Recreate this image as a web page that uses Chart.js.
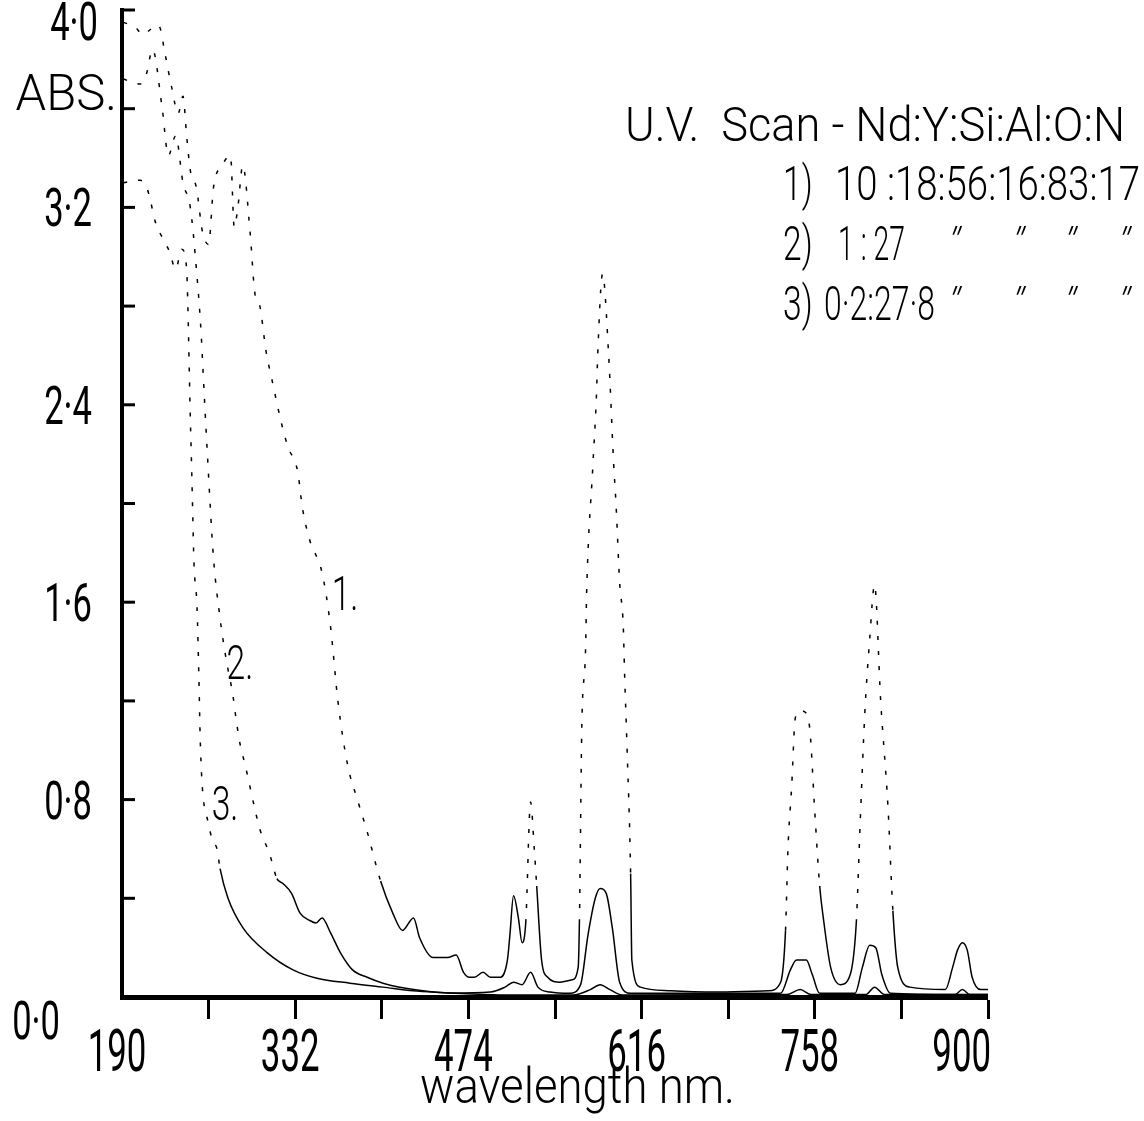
<!DOCTYPE html>
<html>
<head>
<meta charset="utf-8">
<title>U.V. Scan - Nd:Y:Si:Al:O:N</title>
<script src="https://cdn.jsdelivr.net/npm/chart.js@4.4.0/dist/chart.umd.min.js"></script>
<style>
  html, body { margin: 0; padding: 0; background: #ffffff; }
  #wrap { width: 1144px; height: 1121px; }
</style>
</head>
<body>
<div id="wrap"><canvas id="scan" width="1144" height="1121"></canvas></div>
<script>
// Absorbance scans of three Nd:Y:Si:Al:O:N glasses (wavelength in nm, absorbance)
const wavelength1 = [191, 201, 207, 213, 218, 221, 225, 231, 236, 240, 243, 246, 251, 256, 261, 265, 272, 279, 282, 285, 289, 295, 299, 303, 308, 313, 321, 326, 334, 338, 344, 354, 361, 367, 375, 383, 391, 402, 412, 420, 429, 434, 445, 457, 464, 470, 475, 479, 486, 492, 500, 506, 508, 511, 515, 518, 521, 525, 528, 530, 534, 539, 549, 559, 564, 565, 567, 570, 571, 576, 579, 580, 584, 589, 593, 595, 598, 601, 602, 604, 607, 608, 615, 640, 680, 720, 730, 734, 736, 739, 742, 746, 751, 754, 758, 762, 765, 771, 779, 787, 792, 795, 799, 803, 807, 812, 818, 822, 826, 836, 865, 871, 875, 879, 883, 887, 894, 900];
const absorbance1 = [3.95, 3.93, 3.90, 3.92, 3.94, 3.93, 3.83, 3.68, 3.58, 3.65, 3.49, 3.35, 3.28, 3.10, 3.05, 3.28, 3.37, 3.41, 3.12, 3.20, 3.37, 3.10, 2.85, 2.80, 2.62, 2.50, 2.32, 2.23, 2.13, 1.98, 1.85, 1.72, 1.50, 1.20, 0.94, 0.80, 0.67, 0.47, 0.34, 0.27, 0.32, 0.24, 0.16, 0.16, 0.17, 0.10, 0.08, 0.08, 0.10, 0.08, 0.08, 0.15, 0.25, 0.41, 0.32, 0.22, 0.30, 0.79, 0.60, 0.45, 0.15, 0.08, 0.06, 0.07, 0.12, 0.30, 1.10, 1.40, 1.65, 2.15, 2.44, 2.60, 2.93, 2.60, 2.17, 2.00, 1.68, 1.50, 1.32, 1.02, 0.50, 0.15, 0.04, 0.025, 0.02, 0.025, 0.06, 0.27, 0.60, 0.85, 1.13, 1.16, 1.15, 1.08, 0.75, 0.45, 0.32, 0.12, 0.05, 0.09, 0.30, 0.68, 1.15, 1.45, 1.67, 1.20, 0.77, 0.35, 0.12, 0.04, 0.03, 0.12, 0.19, 0.22, 0.19, 0.08, 0.03, 0.03];

const wavelength2 = [191, 205, 210, 215, 223, 228, 234, 240, 246, 251, 255, 256, 260, 265, 270, 275, 281, 284, 287, 291, 299, 303, 311, 317, 322, 329, 336, 344, 349, 354, 361, 369, 379, 391, 404, 432, 459, 492, 504, 511, 518, 525, 531, 541, 557, 566, 572, 578, 582, 587, 592, 598, 607, 730, 738, 743, 751, 756, 762, 791, 797, 803, 808, 813, 820, 873, 879, 885, 900];
const absorbance2 = [3.72, 3.70, 3.74, 3.84, 3.60, 3.41, 3.49, 3.30, 3.20, 2.95, 2.68, 2.58, 2.20, 1.78, 1.55, 1.38, 1.22, 1.11, 1.02, 0.94, 0.76, 0.68, 0.58, 0.48, 0.46, 0.42, 0.34, 0.31, 0.30, 0.32, 0.26, 0.18, 0.11, 0.08, 0.056, 0.028, 0.016, 0.02, 0.04, 0.06, 0.05, 0.10, 0.04, 0.02, 0.015, 0.05, 0.25, 0.40, 0.44, 0.42, 0.28, 0.06, 0.015, 0.015, 0.11, 0.15, 0.15, 0.09, 0.015, 0.015, 0.12, 0.21, 0.20, 0.09, 0.015, 0.01, 0.03, 0.01, 0.01];

const wavelength3 = [191, 205, 211, 218, 224, 229, 234, 239, 243, 244, 245.8, 246.8, 247.8, 249, 251.5, 253.1, 254, 255.6, 260.5, 264.6, 267.9, 270.4, 276.9, 289.2, 308.9, 330.2, 349.9, 376.9, 404, 431.9, 458.9, 500, 560, 574, 582, 590, 600, 735, 746, 755, 800, 807, 815, 900];
const absorbance3 = [3.30, 3.31, 3.27, 3.13, 3.07, 3.02, 2.95, 3.03, 2.95, 2.80, 2.39, 2.20, 2.00, 1.76, 1.58, 1.28, 1.07, 0.87, 0.71, 0.63, 0.60, 0.52, 0.40, 0.28, 0.18, 0.11, 0.076, 0.056, 0.040, 0.024, 0.016, 0.008, 0.008, 0.03, 0.05, 0.03, 0.008, 0.01, 0.03, 0.01, 0.01, 0.04, 0.01, 0.01];

// Axis ticks and labels
const wavelengthLabels = [190, 332, 474, 616, 758, 900];
const absorbanceLabels = [0.0, 0.8, 1.6, 2.4, 3.2, 4.0];
const absorbanceTitleAt = 3.6;

// Sample key
const scanTitle = 'U.V.  Scan - Nd:Y:Si:Al:O:N';
const sampleNames = ['1)', '2)', '3)'];
const sampleRatios = ['10 :18:56:16:83:17', '1 : 27', '0·2:27·8'];
const curveMarks = ['1.', '2.', '3.'];
const curveMarkAt = [[372.8, 1.64], [286.7, 1.36], [274.5, 0.79]];

const PEN = '#000000';
const FACE = "Roboto, 'DejaVu Sans', sans-serif";

// plotter-style lettering: squeezed horizontally, optionally slanted
function penText(ctx, text, x, y, size, sx, align, weight, slant) {
  ctx.save();
  ctx.font = (weight || 300) + ' ' + size + 'px ' + FACE;
  ctx.fillStyle = PEN;
  ctx.textAlign = 'left';
  ctx.textBaseline = 'alphabetic';
  ctx.translate(x, y);
  if (slant) ctx.transform(1, 0, -slant, 1, 0, 0);
  ctx.scale(sx, 1);
  const w = ctx.measureText(text).width;
  const dx = align === 'center' ? -w / 2 : (align === 'right' ? -w : 0);
  ctx.fillText(text, dx, 0);
  ctx.restore();
}
function penTextFit(ctx, text, x0, x1, y, size, weight) {
  ctx.save();
  ctx.font = (weight || 300) + ' ' + size + 'px ' + FACE;
  const w = ctx.measureText(text).width;
  ctx.restore();
  penText(ctx, text, x0, y, size, (x1 - x0) / w, 'left', weight);
}
const decimal = v => v.toFixed(1).replace('.', '·');

const penLettering = {
  id: 'penLettering',
  afterDraw(chart) {
    const ctx = chart.ctx;
    const xs = chart.scales.x, ys = chart.scales.y;
    const area = chart.chartArea;

    // inward tick marks on the absorbance axis
    ctx.save();
    ctx.strokeStyle = PEN;
    ctx.lineWidth = 3;
    ys.ticks.forEach(t => {
      if (t.value < 0.01) return;
      const py = ys.getPixelForValue(t.value);
      ctx.beginPath();
      ctx.moveTo(area.left, py);
      ctx.lineTo(area.left + 13, py);
      ctx.stroke();
    });
    ctx.restore();

    // wavelength labels
    wavelengthLabels.forEach((v, i) => {
      const px = xs.getPixelForValue(v);
      const last = i === wavelengthLabels.length - 1;
      penText(ctx, String(v), last ? px + 3 : px - 5, area.bottom + 74, 60, 0.58, last ? 'right' : 'center', 400);
    });
    penTextFit(ctx, 'wavelength nm.', 420, 735, area.bottom + 106, 50, 300);

    // absorbance labels
    absorbanceLabels.forEach(v => {
      const py = ys.getPixelForValue(v);
      if (v === 0) {
        penText(ctx, decimal(v), 60, py + 42, 54, 0.64, 'right', 400);
      } else if (v === 4) {
        penText(ctx, decimal(v), 98, py + 30, 54, 0.64, 'right', 400);
      } else {
        penText(ctx, decimal(v), 92, py + 19, 54, 0.64, 'right', 400);
      }
    });
    penText(ctx, 'ABS.', 117, ys.getPixelForValue(absorbanceTitleAt) + 1, 50, 0.98, 'right', 300);

    // sample key
    penTextFit(ctx, scanTitle, 625, 1125, 141, 48);
    const rows = [200, 260, 320];
    sampleNames.forEach((n, i) => {
      penText(ctx, n, 783, rows[i], 48, 0.7, 'left');
    });
    penTextFit(ctx, sampleRatios[0], 835, 1140, rows[0], 48);
    penTextFit(ctx, sampleRatios[1], 838, 905, rows[1], 48);
    penTextFit(ctx, sampleRatios[2], 824, 935, rows[2], 48);
    [1, 2].forEach(r => {
      [948, 1012, 1064, 1118].forEach(px => penText(ctx, '″', px, rows[r] - 4, 40, 1.0, 'center', 300, 0.35));
    });

    // curve numbers
    curveMarks.forEach((m, i) => {
      const [wx, wy] = curveMarkAt[i];
      penText(ctx, m, xs.getPixelForValue(wx), ys.getPixelForValue(wy) + 18, 48, 0.7, 'center');
    });
  }
};

function trace(wl, ab) {
  return {
    data: wl.map((w, i) => ({ x: w, y: ab[i] })),
    borderColor: PEN,
    borderWidth: 1.5,
    pointRadius: 0,
    fill: false,
    cubicInterpolationMode: 'monotone',
    segment: {
      // the pen skips on the steep, high-absorbance parts of the scan
      borderDash: c => Math.max(c.p0.parsed.y, c.p1.parsed.y) > 0.55 ? [4, 11] : undefined
    }
  };
}

new Chart(document.getElementById('scan'), {
  type: 'line',
  data: {
    datasets: [
      trace(wavelength1, absorbance1),
      trace(wavelength2, absorbance2),
      trace(wavelength3, absorbance3)
    ]
  },
  options: {
    responsive: false,
    animation: false,
    devicePixelRatio: 1,
    layout: { padding: { top: 10, right: 156, left: 0, bottom: 0 } },
    plugins: { legend: { display: false }, tooltip: { enabled: false } },
    scales: {
      x: {
        type: 'linear',
        min: 190,
        max: 900,
        ticks: { stepSize: 71, display: false },
        grid: {
          drawOnChartArea: false,
          drawTicks: true,
          tickLength: 22,
          color: PEN,
          lineWidth: c => c.index === 0 ? 0 : 3
        },
        border: { display: true, color: PEN, width: 5 },
        afterFit: s => { s.height = 124; }
      },
      y: {
        type: 'linear',
        min: 0,
        max: 4,
        ticks: { stepSize: 0.4, display: false },
        grid: { display: false },
        border: { display: true, color: PEN, width: 4 },
        afterFit: s => { s.width = 122; }
      }
    }
  },
  plugins: [penLettering]
});
</script>
</body>
</html>
